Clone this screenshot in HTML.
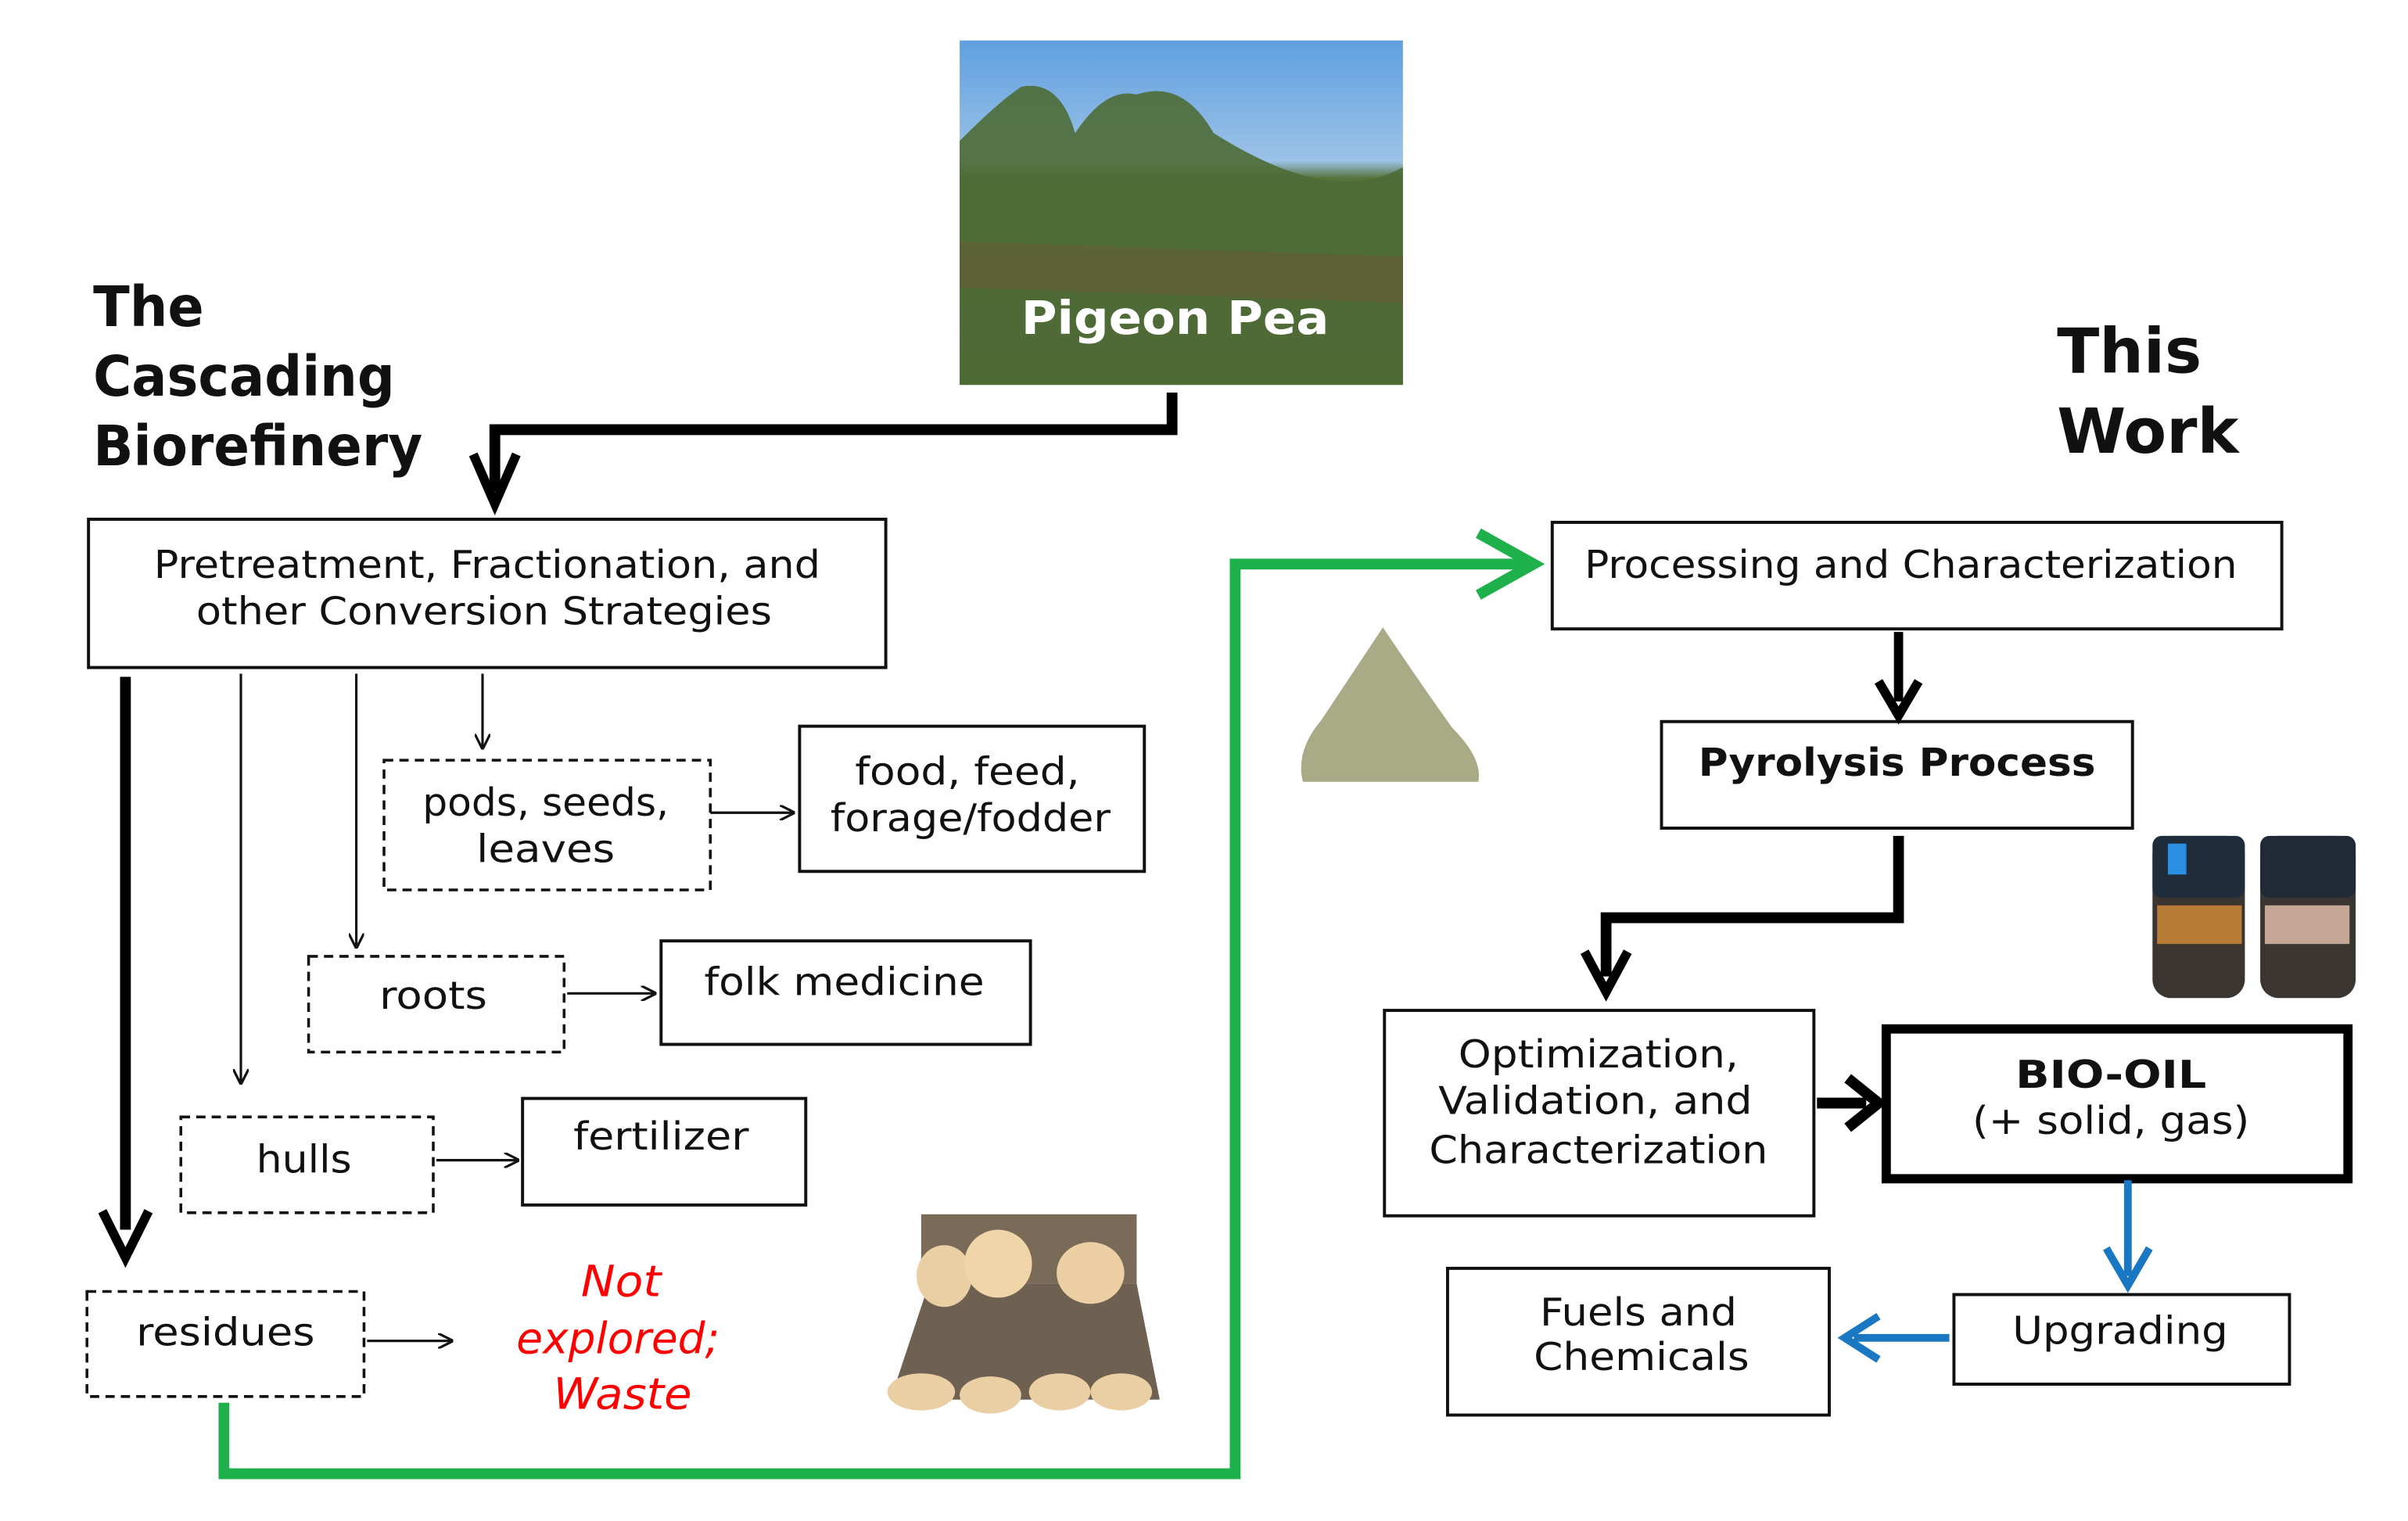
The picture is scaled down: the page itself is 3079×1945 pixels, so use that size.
<!DOCTYPE html>
<html><head><meta charset="utf-8"><style>
html,body{margin:0;padding:0;background:#fff;}
svg{display:block;}
text{font-family:"DejaVu Sans","Liberation Sans",sans-serif;fill:#111;}
</style></head><body>
<svg width="3079" height="1945" viewBox="1.5 3.8 1564.5 984.8" preserveAspectRatio="none" xmlns="http://www.w3.org/2000/svg">
<defs>
<linearGradient id="sky" x1="0" y1="0" x2="0" y2="1">
<stop offset="0" stop-color="#5f9fe0"/><stop offset="0.35" stop-color="#9cc3e6"/><stop offset="0.4" stop-color="#56733c"/><stop offset="0.7" stop-color="#4f6a35"/><stop offset="0.85" stop-color="#5b5a33"/><stop offset="1" stop-color="#4b6a2e"/>
</linearGradient>
<marker id="ah" viewBox="0 0 10 10" refX="9" refY="5" markerWidth="10" markerHeight="10" markerUnits="userSpaceOnUse" orient="auto"><path d="M0,0 L10,5 L0,10" fill="none" stroke="#111" stroke-width="1.6"/></marker>
</defs>
<rect x="625" y="30" width="288" height="223" fill="url(#sky)"/>
<path d="M625,95 Q650,70 665,60 Q690,55 700,90 Q720,60 740,65 Q770,55 790,90 Q830,115 860,120 Q890,125 913,112 L913,253 L625,253Z" fill="#4e6b36" opacity="0.9"/>
<path d="M625,160 L913,170 L913,200 L625,190Z" fill="#6a5a35" opacity="0.5"/>
<text x="765" y="220" text-anchor="middle" font-weight="bold" font-size="30" style="fill:#fff" textLength="200" lengthAdjust="spacingAndGlyphs">Pigeon  Pea</text>
<g font-weight="bold" font-size="36">
<text x="62" y="215" textLength="72" lengthAdjust="spacingAndGlyphs">The</text>
<text x="62" y="260" textLength="196" lengthAdjust="spacingAndGlyphs">Cascading</text>
<text x="62" y="305" textLength="214" lengthAdjust="spacingAndGlyphs">Biorefinery</text>
<text x="1338" y="245" font-size="40" textLength="94" lengthAdjust="spacingAndGlyphs">This</text>
<text x="1338" y="297" font-size="40" textLength="118" lengthAdjust="spacingAndGlyphs">Work</text>
</g>
<path d="M763,258 V282 H323 V322" fill="none" stroke="#000" stroke-width="7"/>
<path d="M309,298 L323,330 L337,298" fill="none" stroke="#000" stroke-width="6"/>
<g fill="#fff" stroke="#111" stroke-width="2">
<rect x="59" y="340" width="518" height="96"/>
<rect x="521" y="474" width="224" height="94"/>
<rect x="431" y="613" width="240" height="67"/>
<rect x="341" y="715" width="184" height="69"/>
<rect x="1010" y="342" width="474" height="69"/>
<rect x="1081" y="471" width="306" height="69"/>
<rect x="901" y="658" width="279" height="133"/>
<rect x="1271" y="842" width="218" height="58"/>
<rect x="942" y="825" width="248" height="95"/>
</g>
<rect x="1227" y="670" width="300" height="97" fill="#fff" stroke="#000" stroke-width="6"/>
<g fill="none" stroke="#111" stroke-width="1.8" stroke-dasharray="6,4">
<rect x="251" y="496" width="212" height="84"/>
<rect x="202" y="623" width="166" height="62"/>
<rect x="119" y="727" width="164" height="62"/>
<rect x="58" y="840" width="180" height="68"/>
</g>
<path d="M83,442 V800" stroke="#000" stroke-width="7"/>
<path d="M68,788 L83,818 L98,788" fill="none" stroke="#000" stroke-width="6"/>
<g stroke="#111" stroke-width="1.6" fill="none">
<path d="M158,440 V705" marker-end="url(#ah)"/>
<path d="M233,440 V617" marker-end="url(#ah)"/>
<path d="M315,440 V488" marker-end="url(#ah)"/>
<path d="M463,530 H517" marker-end="url(#ah)"/>
<path d="M370,647 H427" marker-end="url(#ah)"/>
<path d="M285,755 H338" marker-end="url(#ah)"/>
<path d="M240,872 H295" marker-end="url(#ah)"/>
</g>
<path d="M147,912 V958 H804 V369 H992" fill="none" stroke="#1db04b" stroke-width="7"/>
<path d="M962,349 L998,369 L962,389" fill="none" stroke="#1db04b" stroke-width="7"/>
<path d="M1235,413 V458" stroke="#000" stroke-width="6"/>
<path d="M1222,445 L1235,467 L1248,445" fill="none" stroke="#000" stroke-width="6"/>
<path d="M1235,545 V598 H1045 V636" fill="none" stroke="#000" stroke-width="7"/>
<path d="M1031,620 L1045,646 L1059,620" fill="none" stroke="#000" stroke-width="6"/>
<path d="M1182,718 H1214" stroke="#000" stroke-width="7"/>
<path d="M1202,702 L1222,718 L1202,734" fill="none" stroke="#000" stroke-width="7"/>
<path d="M1384,768 V830" stroke="#1a78c2" stroke-width="5"/>
<path d="M1370,812 L1384,836 L1398,812" fill="none" stroke="#1a78c2" stroke-width="5"/>
<path d="M1268,870 H1206" stroke="#1a78c2" stroke-width="5"/>
<path d="M1222,856 L1200,870 L1222,884" fill="none" stroke="#1a78c2" stroke-width="5"/>
<path d="M900,410 Q920,440 945,475 Q965,495 962,510 L848,510 Q843,490 860,470 Q880,440 900,410Z" fill="#a8ab86"/>
<g>
<rect x="600" y="790" width="140" height="45" fill="#7a6a58"/>
<path d="M580,910 L605,835 L740,835 L755,910Z" fill="#6e6152"/>
<ellipse cx="615" cy="830" rx="18" ry="20" fill="#eacfa5"/>
<ellipse cx="650" cy="822" rx="22" ry="22" fill="#f0d5a8"/>
<ellipse cx="710" cy="828" rx="22" ry="20" fill="#ecd0a4"/>
<ellipse cx="600" cy="905" rx="22" ry="12" fill="#eacfa5"/>
<ellipse cx="645" cy="907" rx="20" ry="12" fill="#eacfa5"/>
<ellipse cx="690" cy="905" rx="20" ry="12" fill="#eacfa5"/>
<ellipse cx="730" cy="905" rx="20" ry="12" fill="#eacfa5"/>
</g>
<g>
<rect x="1400" y="545" width="60" height="105" rx="12" fill="#3a3530"/>
<rect x="1470" y="545" width="62" height="105" rx="12" fill="#3a3530"/>
<rect x="1400" y="545" width="60" height="40" rx="6" fill="#1f2c3c"/>
<rect x="1470" y="545" width="62" height="40" rx="6" fill="#202a36"/>
<rect x="1410" y="550" width="12" height="20" fill="#2a8fe0"/>
<rect x="1403" y="590" width="55" height="25" fill="#d98f3a" opacity="0.8"/>
<rect x="1473" y="590" width="55" height="25" fill="#e9c4b0" opacity="0.8"/>
</g>
<g font-size="25">
<text x="318" y="378" text-anchor="middle" textLength="433" lengthAdjust="spacingAndGlyphs">Pretreatment, Fractionation, and</text>
<text x="316" y="408" text-anchor="middle" textLength="374" lengthAdjust="spacingAndGlyphs">other Conversion Strategies</text>
<text x="356" y="532" text-anchor="middle" textLength="160" lengthAdjust="spacingAndGlyphs">pods, seeds,</text>
<text x="356" y="562" text-anchor="middle" textLength="90" lengthAdjust="spacingAndGlyphs">leaves</text>
<text x="630" y="512" text-anchor="middle" textLength="146" lengthAdjust="spacingAndGlyphs">food, feed,</text>
<text x="632" y="542" text-anchor="middle" textLength="182" lengthAdjust="spacingAndGlyphs">forage/fodder</text>
<text x="283" y="657" text-anchor="middle" textLength="70" lengthAdjust="spacingAndGlyphs">roots</text>
<text x="550" y="648" text-anchor="middle" textLength="182" lengthAdjust="spacingAndGlyphs">folk medicine</text>
<text x="199" y="763" text-anchor="middle" textLength="62" lengthAdjust="spacingAndGlyphs">hulls</text>
<text x="431" y="748" text-anchor="middle" textLength="114" lengthAdjust="spacingAndGlyphs">fertilizer</text>
<text x="148" y="875" text-anchor="middle" textLength="116" lengthAdjust="spacingAndGlyphs">residues</text>
<text x="1243" y="378" text-anchor="middle" textLength="424" lengthAdjust="spacingAndGlyphs">Processing and Characterization</text>
<text x="1234" y="506" text-anchor="middle" font-weight="bold" textLength="258" lengthAdjust="spacingAndGlyphs">Pyrolysis Process</text>
<text x="1040" y="695" text-anchor="middle" textLength="182" lengthAdjust="spacingAndGlyphs">Optimization,</text>
<text x="1038" y="725" text-anchor="middle" textLength="204" lengthAdjust="spacingAndGlyphs">Validation, and</text>
<text x="1040" y="757" text-anchor="middle" textLength="220" lengthAdjust="spacingAndGlyphs">Characterization</text>
<text x="1373" y="708" text-anchor="middle" font-weight="bold" textLength="124" lengthAdjust="spacingAndGlyphs">BIO-OIL</text>
<text x="1373" y="738" text-anchor="middle" textLength="180" lengthAdjust="spacingAndGlyphs">(+ solid, gas)</text>
<text x="1379" y="874" text-anchor="middle" textLength="140" lengthAdjust="spacingAndGlyphs">Upgrading</text>
<text x="1066" y="862" text-anchor="middle" textLength="128" lengthAdjust="spacingAndGlyphs">Fuels and</text>
<text x="1068" y="891" text-anchor="middle" textLength="140" lengthAdjust="spacingAndGlyphs">Chemicals</text>
</g>
<g font-size="28" font-style="italic" text-anchor="middle">
<text x="405" y="843" style="fill:#f00" textLength="52" lengthAdjust="spacingAndGlyphs">Not</text>
<text x="403" y="880" style="fill:#f00" textLength="132" lengthAdjust="spacingAndGlyphs">explored;</text>
<text x="406" y="916" style="fill:#f00" textLength="90" lengthAdjust="spacingAndGlyphs">Waste</text>
</g>
</svg>
</body></html>
